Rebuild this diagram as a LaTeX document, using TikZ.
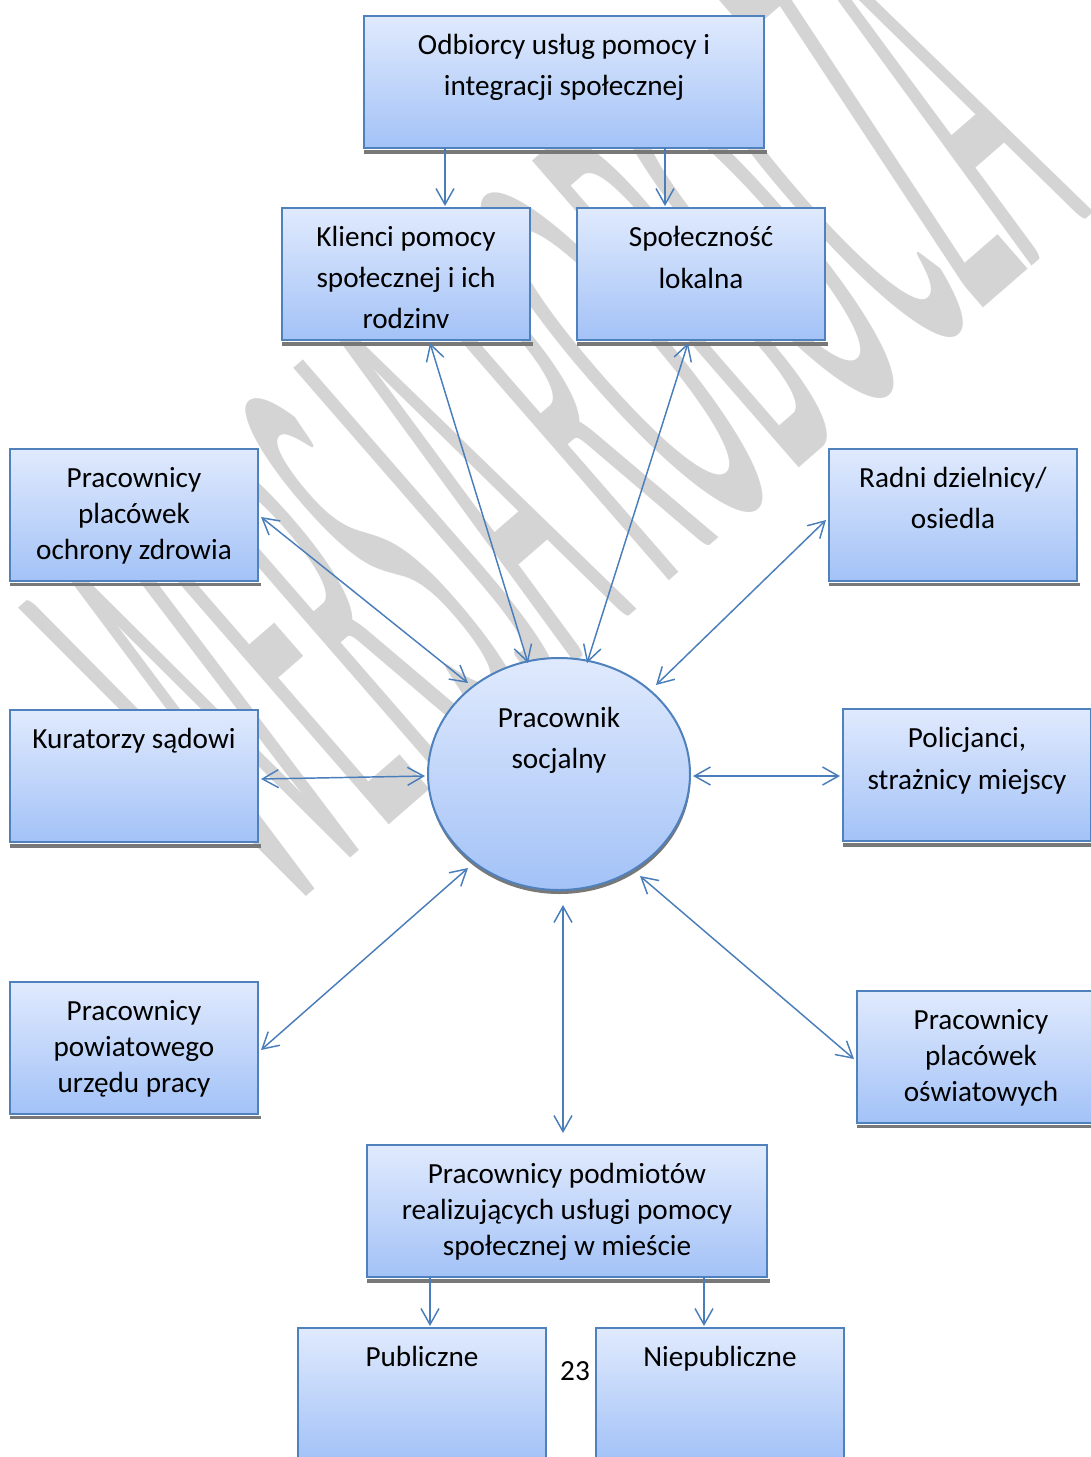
\documentclass[tikz,border=0pt]{standalone}
\usepackage{fontspec}
\setmainfont{Carlito}
\usetikzlibrary{arrows.meta,shapes.geometric}

\definecolor{bord}{RGB}{79,129,189}
\definecolor{fillTop}{RGB}{224,234,253}
\definecolor{fillBot}{RGB}{163,194,247}
\definecolor{linkc}{RGB}{74,126,187}
\definecolor{shadowc}{RGB}{120,120,120}
\definecolor{wmark}{RGB}{212,212,212}

% box text: width, height, line spacing, lines (top aligned)
\newcommand\boxtxt[4]{\parbox[t][#2][t]{#1}{\centering\fontsize{21.9pt}{#3}\selectfont\rule{0pt}{29pt}#4\par}}
% thin drop shadow under a box
\newcommand\shadowbar[1]{\fill[shadowc] ([shift={(1,1)}]#1.south west) rectangle ([shift={(2,4.5)}]#1.south east);}

\begin{document}
\begin{tikzpicture}[x=0.75pt,y=-0.75pt,
  box/.style={draw=bord, line width=1.5pt, top color=fillTop, bottom color=fillBot, inner sep=0pt},
  oval/.style={ellipse, draw=bord, line width=1.5pt, top color=fillTop, bottom color=fillBot, inner sep=0pt,
               minimum width=196.5pt, minimum height=174pt},
  link/.style={draw=linkc, line width=1.1pt},
  >={Straight Barb[length=12pt,width=13.5pt]}]
\useasboundingbox (0,0) rectangle (1091,1457);
\clip (0,0) rectangle (1091,1457);

% watermark behind the chart
\node[rotate=41, yscale=4.4, inner sep=0pt, text=wmark,
      font=\fontsize{108pt}{110pt}\selectfont] (wm) at (556,410) {WERSJA ROBOCZA};

% boxes
\node[box] (top) at (564,82)  {\boxtxt{300pt}{99pt}{30.75pt}{Odbiorcy usług pomocy i\\integracji społecznej}};
\shadowbar{top}
\node[box] (kl) at (406,274)  {\boxtxt{186pt}{99pt}{30.75pt}{Klienci pomocy\\społecznej i ich\\rodzinv}};
\shadowbar{kl}
\node[box] (sp) at (701,274)  {\boxtxt{186pt}{99pt}{31.5pt}{Społeczność\\lokalna}};
\shadowbar{sp}
\node[box] (zd) at (134,514.5) {\boxtxt{186pt}{99pt}{27pt}{Pracownicy\\placówek\\ochrony zdrowia}};
\shadowbar{zd}
\node[box] (ra) at (953,514.5) {\boxtxt{186pt}{99pt}{30.75pt}{Radni dzielnicy/\\osiedla}};
\shadowbar{ra}
\node[box] (ku) at (134,776)  {\boxtxt{186pt}{99pt}{30.75pt}{Kuratorzy sądowi}};
\shadowbar{ku}
\node[box] (po) at (967,775)  {\boxtxt{186pt}{99pt}{31.5pt}{Policjanci,\\strażnicy miejscy}};
\shadowbar{po}
\node[box] (pu) at (134,1047.5) {\boxtxt{186pt}{99pt}{27pt}{Pracownicy\\powiatowego\\urzędu pracy}};
\shadowbar{pu}
\node[box] (os) at (981,1056.5) {\boxtxt{186pt}{99pt}{27pt}{Pracownicy\\placówek\\oświatowych}};
\shadowbar{os}
\node[box] (pm) at (567,1211) {\boxtxt{300pt}{99pt}{27pt}{Pracownicy podmiotów\\realizujących usługi pomocy\\społecznej w mieście}};
\shadowbar{pm}
\node[box] (pb) at (422,1394) {\boxtxt{186pt}{99pt}{30.75pt}{Publiczne}};
\node[box] (np) at (720,1394) {\boxtxt{186pt}{99pt}{30.75pt}{Niepubliczne}};

% central worker
\fill[shadowc] (559.5,778) ellipse [x radius=98.25pt, y radius=87pt];
\node[oval] (el) at (559,774) {};
\node[anchor=north, inner sep=0pt] (elt) at ([shift={(0,-85)}]el.center)
  {\boxtxt{150pt}{120pt}{30.75pt}{Pracownik\\socjalny}};
\node[inner sep=0pt, font=\fontsize{21.9pt}{26pt}\selectfont] (pg) at (575,1371) {23};

% connectors
\draw[link,->]  ([shift={(-119,66)}]top.center) -- ([shift={(39,-68)}]kl.center);
\draw[link,->]  ([shift={(101,66)}]top.center)  -- ([shift={(-36,-68)}]sp.center);
\draw[link,<->] ([shift={(24,69)}]kl.center)   -- ([shift={(-31,-111)}]el.center);
\draw[link,<->] ([shift={(-13,69)}]sp.center)  -- ([shift={(28,-111)}]el.center);
\draw[link,<->] ([shift={(127,2.5)}]zd.center) -- ([shift={(-91,-91)}]el.center);
\draw[link,<->] ([shift={(-127,5.5)}]ra.center) -- ([shift={(97,-89)}]el.center);
\draw[link,<->] ([shift={(127,3)}]ku.center)   -- ([shift={(-134,2)}]el.center);
\draw[link,<->] ([shift={(134,2)}]el.center)   -- ([shift={(-127,1)}]po.center);
\draw[link,<->] ([shift={(127,2.5)}]pu.center) -- ([shift={(-91,94)}]el.center);
\draw[link,<->] ([shift={(81,102)}]el.center)  -- ([shift={(-127,2.5)}]os.center);
\draw[link,<->] ([shift={(4,131)}]el.center)   -- ([shift={(-4,-78)}]pm.center);
\draw[link,->]  ([shift={(-137,66)}]pm.center) -- ([shift={(8,-68)}]pb.center);
\draw[link,->]  ([shift={(137,66)}]pm.center)  -- ([shift={(-16,-68)}]np.center);
\end{tikzpicture}
\end{document}
